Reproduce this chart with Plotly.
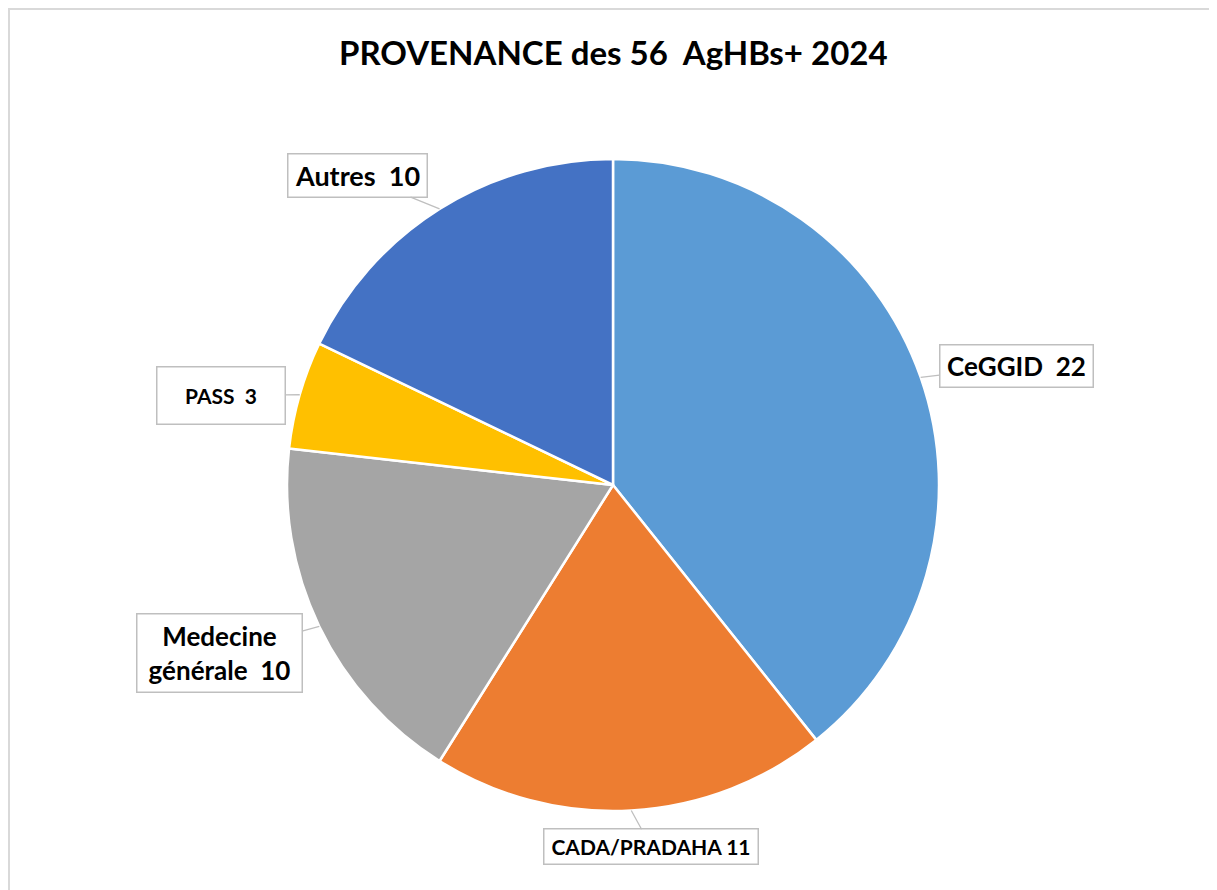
import math
import plotly.graph_objects as go

# ---- data ----
categories = ["CeGGID", "CADA/PRADAHA", "Medecine générale", "PASS", "Autres"]
values = [22, 11, 10, 3, 10]
label_texts = ["CeGGID\u00a0 22", "CADA/PRADAHA 11", "Medecine<br>générale\u00a0 10", "PASS\u00a0 3", "Autres\u00a0 10"]
title_text = "PROVENANCE des 56\u00a0 AgHBs+ 2024"

# ---- style ----
colors = ["#5B9BD5", "#ED7D31", "#A5A5A5", "#FFC000", "#4472C4"]
label_sizes = [26, 21, 26, 21, 27]
label_offsets = [(95.5, -11), (20, 36.5), (-100, 27), (-79, 0.5), (-82.5, -33.5)]
label_boxes = [(155, 44), (216, 37), (167, 80), (130, 59), (141, 45)]
FONT = "Lato"

W, H = 1217, 890
OFF = 8  # page body margin
cx, cy, r = 613 - OFF, 485 - OFF, 326  # pixel layout of pie within figure

fig = go.Figure()
fig.add_trace(go.Pie(
    labels=categories,
    values=values,
    sort=False,
    direction="clockwise",
    rotation=0,
    marker=dict(colors=colors, line=dict(color="white", width=2.5)),
    textinfo="none",
    hoverinfo="label+value",
    showlegend=False,
    domain=dict(x=[(cx - r) / W, (cx + r) / W], y=[1 - (cy + r) / H, 1 - (cy - r) / H]),
))

total = sum(values)
cum = 0
annotations = []
PAD = 1
for v, txt, sz, (ox, oy), (bw, bh) in zip(values, label_texts, label_sizes, label_offsets, label_boxes):
    mid = (cum + v / 2) / total * 2 * math.pi
    cum += v
    px = cx + r * math.sin(mid)
    py = cy - r * math.cos(mid)
    annotations.append(dict(
        x=px / W, y=1 - py / H, xref="paper", yref="paper",
        text="<b>" + txt + "</b>",
        showarrow=True, arrowhead=0, arrowwidth=1.3, arrowcolor="#BFBFBF",
        ax=ox, ay=oy, standoff=0,
        font=dict(family=FONT, size=sz, color="black"),
        bgcolor="white", bordercolor="#BFBFBF", borderwidth=1.5, borderpad=PAD,
        width=bw - 2 * PAD - 3, height=bh - 2 * PAD - 3,
        align="center", valign="middle",
    ))

annotations.append(dict(
    x=(613.5 - OFF) / W, y=1 - (52 - OFF) / H, xref="paper", yref="paper",
    text="<b>" + title_text + "</b>", showarrow=False,
    font=dict(family=FONT, size=33, color="black"),
    xanchor="center", yanchor="middle",
))

fig.update_layout(
    width=W, height=H,
    margin=dict(l=0, r=0, t=0, b=0),
    paper_bgcolor="white",
    plot_bgcolor="white",
    annotations=annotations,
    shapes=[
        dict(type="line", xref="paper", yref="paper", x0=0, x1=1, y0=1 - 1 / H, y1=1 - 1 / H,
             line=dict(color="#D9D9D9", width=2)),
        dict(type="line", xref="paper", yref="paper", x0=1 / W, x1=1 / W, y0=0, y1=1,
             line=dict(color="#D9D9D9", width=2)),
    ],
)

fig.write_html("out.html")
